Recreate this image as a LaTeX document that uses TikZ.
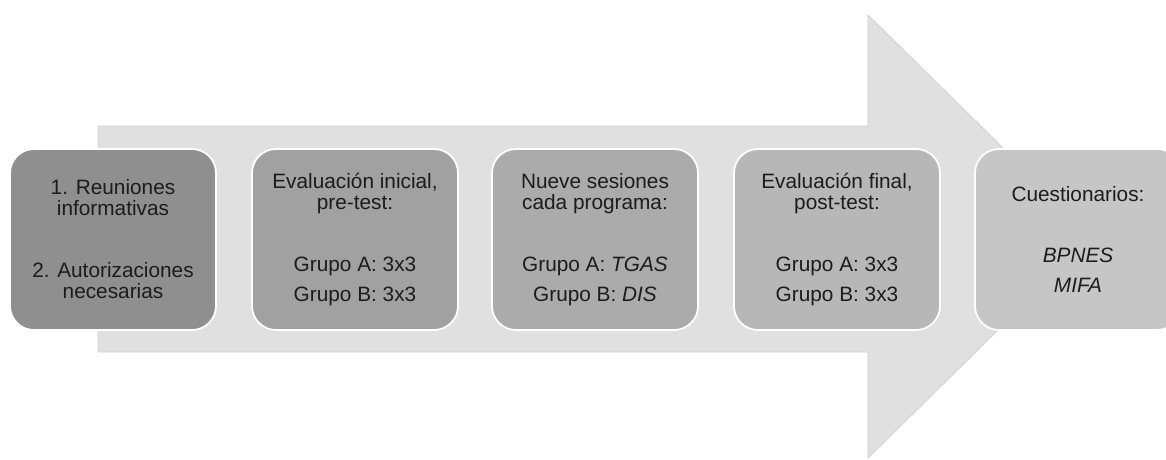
\documentclass[tikz,border=0pt]{standalone}
\usepackage{fontspec}
\setmainfont{Liberation Sans}
\definecolor{arrowfill}{HTML}{E0E0E0}
\definecolor{arrowedge}{HTML}{D0D0D0}
\definecolor{boxa}{HTML}{8F8F8F}
\definecolor{boxb}{HTML}{A1A1A1}
\definecolor{boxc}{HTML}{ABABAB}
\definecolor{boxd}{HTML}{B7B7B7}
\definecolor{boxe}{HTML}{C6C6C6}
\definecolor{txt}{HTML}{1C1C1C}
\begin{document}
\begin{tikzpicture}[x=1pt,y=-1pt,
  stage/.style={draw=white, line width=1.8pt, rounded corners=24pt,
    minimum width=206pt, minimum height=181pt, align=center, text=txt,
    font=\fontsize{20.8}{21}\selectfont, inner sep=0pt},
  bigarrow/.style={fill=arrowfill, draw=arrowedge, line width=0.8pt}
]
\useasboundingbox (0,0) rectangle (1166,459);
\draw[bigarrow] (98,126) -- (868,126) -- (868,15) -- (1093,236.5) -- (868,458) -- (868,352) -- (98,352) -- cycle;
\node[stage, fill=boxa] (s1) at (113,239.5) {1. Reuniones\\informativas\\[41pt]2. Autorizaciones\\necesarias};
\node[stage, fill=boxb] (s2) at (355,239.5) {Evaluación inicial,\\pre-test:\\[41pt]Grupo A: 3x3\\[9pt]Grupo B: 3x3};
\node[stage, fill=boxc] (s3) at (595,239.5) {Nueve sesiones\\cada programa:\\[41pt]Grupo A: \textit{TGAS}\\[9pt]Grupo B: \textit{DIS}};
\node[stage, fill=boxd] (s4) at (837,239.5) {Evaluación final,\\post-test:\\[41pt]Grupo A: 3x3\\[9pt]Grupo B: 3x3};
\node[stage, fill=boxe] (s5) at (1078,239.5) {Cuestionarios:\\[40pt]\textit{BPNES}\\[9pt]\textit{MIFA}};
\end{tikzpicture}
\end{document}
